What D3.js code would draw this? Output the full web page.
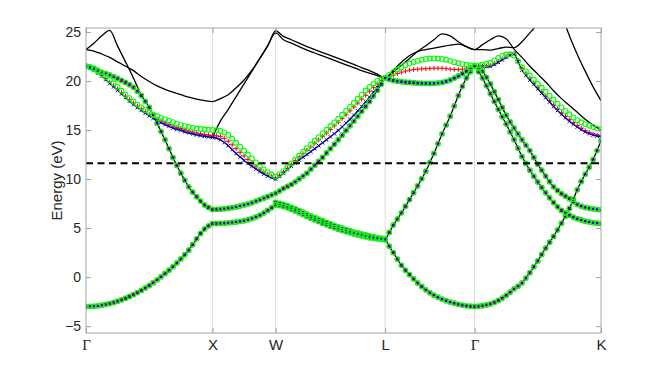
<!DOCTYPE html>
<html>
<head>
<meta charset="utf-8">
<script src="https://cdn.jsdelivr.net/npm/d3@7"></script>
<style>
  body { margin: 0; background: #fff; }
  .tick text { font-family: "Liberation Sans", Arial, sans-serif; fill: #262626; }
</style>
</head>
<body>
<script>
var svgWidth = 664;
var svgHeight = 374;

var margin = { top: 28, right: 63, bottom: 41, left: 86 };
var width = svgWidth - margin.left - margin.right;
var height = svgHeight - margin.top - margin.bottom;

// high-symmetry path
var kNodes = [0, 1, 1.5, 2.366, 3.073, 4.073];
var kDivs = [16, 8, 14, 11, 16];       // coarse grid (black-only bands)
var kDivsFine = [32, 16, 28, 22, 32];  // fine grid (projected bands)
var kLabels = ["Γ", "X", "W", "L", "Γ", "K"];
var yTicks = [-5, 0, 5, 10, 15, 20, 25];
var yRange = [-5.7, 25.4];
var fermiLevel = 11.6;

// projected bands (eV) on the fine grid: Γ-X | X-W | W-L | L-Γ | Γ-K
var band1 = [-3.00,-2.99,-2.97,-2.93,-2.87,-2.79,-2.70,-2.59,-2.46,-2.32,-2.16,-1.98,-1.79,-1.58,-1.35,-1.11,-0.85,-0.57,-0.28,0.03,0.36,0.70,1.06,1.44,1.84,2.28,2.75,3.30,3.90,4.45,4.90,5.22,5.45,
  5.46,5.48,5.50,5.53,5.57,5.62,5.68,5.75,5.85,5.98,6.13,6.30,6.53,6.80,7.07,7.35,
  7.29,7.20,7.06,6.90,6.73,6.55,6.37,6.18,6.00,5.83,5.66,5.50,5.34,5.18,5.03,4.88,4.75,4.62,4.51,4.40,4.30,4.20,4.11,4.02,3.96,3.90,3.85,3.80,
  3.15,2.50,1.83,1.20,0.70,0.25,-0.18,-0.60,-0.96,-1.30,-1.59,-1.85,-2.06,-2.25,-2.41,-2.55,-2.67,-2.78,-2.86,-2.93,-2.97,-3.00,
  -2.97,-2.92,-2.84,-2.74,-2.58,-2.38,-2.14,-1.86,-1.54,-1.20,-0.93,-0.60,-0.10,0.45,1.05,1.65,2.30,2.95,3.55,4.15,4.80,5.50,6.22,7.00,7.95,8.90,9.75,10.50,11.20,12.00,12.90,13.90];

var band2 = [21.50,21.42,21.30,21.10,20.90,20.75,20.60,20.43,20.25,20.05,19.85,19.62,19.35,18.95,18.50,17.92,17.30,16.50,15.70,14.85,14.00,13.10,12.20,11.38,10.60,9.88,9.20,8.67,8.20,7.75,7.35,7.10,6.90,
  6.91,6.93,6.97,7.02,7.08,7.15,7.25,7.35,7.46,7.58,7.73,7.88,8.04,8.20,8.37,8.55,
  8.78,9.05,9.24,9.45,9.71,10.00,10.30,10.60,11.00,11.40,11.80,12.20,12.65,13.10,13.55,14.00,14.47,14.95,15.42,15.90,16.40,16.90,17.40,17.90,18.47,19.05,19.67,20.30,
  20.17,20.05,19.98,19.92,19.88,19.85,19.81,19.78,19.76,19.75,19.74,19.75,19.79,19.85,19.96,20.10,20.29,20.50,20.74,21.00,21.25,21.50,
  21.28,21.00,20.37,19.70,18.90,18.10,17.30,16.50,15.83,15.20,14.60,14.00,13.45,12.90,12.20,11.50,10.90,10.30,9.73,9.20,8.83,8.50,8.25,8.00,7.68,7.40,7.23,7.10,7.02,6.95,6.90,6.85];

var bandPair = [null,null,null,null,null,null,null,null,null,null,null,null,null,null,null,null,null,null,null,null,null,null,null,null,null,null,null,null,null,null,null,null,null,
  null,null,null,null,null,null,null,null,null,null,null,null,null,null,null,7.60,
  7.51,7.40,7.27,7.12,6.96,6.80,6.61,6.42,6.24,6.07,5.90,5.74,5.58,5.42,5.27,5.12,4.99,4.86,4.73,4.60,4.50,4.40,4.30,4.20,4.11,4.03,3.96,3.90,
  4.55,5.30,5.92,6.55,7.22,7.90,8.60,9.30,10.03,10.80,11.68,12.60,13.60,14.60,15.50,16.40,17.45,18.50,19.45,20.30,20.95,21.50,
  20.95,20.30,19.50,18.70,17.90,17.10,16.35,15.60,14.80,14.00,13.15,12.30,11.58,10.90,10.28,9.70,9.13,8.60,8.08,7.60,7.17,6.80,6.53,6.30,6.11,5.95,5.82,5.70,5.62,5.55,5.50,5.45];

var band3 = [21.50,21.33,21.10,20.82,20.50,20.13,19.75,19.40,19.05,18.67,18.30,17.94,17.60,17.29,17.00,16.72,16.45,16.19,15.95,15.74,15.55,15.37,15.20,15.07,14.95,14.82,14.70,14.60,14.50,14.42,14.35,14.30,14.25,
  14.18,14.00,13.73,13.40,13.00,12.60,12.24,11.90,11.59,11.30,11.02,10.75,10.51,10.30,10.13,10.00,
  10.27,10.60,10.96,11.30,11.63,11.95,12.22,12.50,12.80,13.10,13.40,13.70,14.00,14.30,14.62,14.95,15.32,15.70,16.09,16.50,16.94,17.40,17.87,18.35,18.85,19.35,19.83,20.30,
  20.17,20.05,19.98,19.92,19.88,19.85,19.81,19.78,19.76,19.75,19.74,19.75,19.79,19.85,19.96,20.10,20.29,20.50,20.74,21.00,21.25,21.50,
  21.47,21.45,21.46,21.50,21.68,21.90,22.15,22.40,22.60,22.75,22.00,21.10,20.58,20.10,19.65,19.20,18.75,18.30,17.85,17.40,16.99,16.60,16.24,15.90,15.59,15.30,15.04,14.80,14.64,14.50,14.39,14.30];

var greenBand = [21.50,21.37,21.20,20.97,20.70,20.41,20.10,19.76,19.40,19.00,18.60,18.24,17.90,17.59,17.30,17.04,16.80,16.59,16.40,16.24,16.10,15.95,15.80,15.64,15.50,15.39,15.30,15.22,15.15,15.10,15.05,15.02,15.00,
  14.97,14.90,14.75,14.50,14.12,13.70,13.30,12.90,12.50,12.10,11.69,11.30,10.98,10.70,10.46,10.25,
  10.50,10.80,11.20,11.60,12.00,12.40,12.78,13.15,13.52,13.90,14.27,14.65,15.02,15.40,15.77,16.15,16.55,16.95,17.35,17.75,18.18,18.60,19.02,19.40,19.73,20.00,20.17,20.30,
  20.62,20.90,21.17,21.40,21.61,21.80,21.94,22.05,22.16,22.25,22.29,22.30,22.29,22.25,22.16,22.05,21.92,21.80,21.71,21.65,21.59,21.55,
  21.59,21.65,21.73,21.85,22.09,22.35,22.55,22.70,22.72,22.60,22.00,21.40,20.97,20.55,20.12,19.70,19.30,18.90,18.50,18.10,17.69,17.30,16.94,16.60,16.29,16.00,15.79,15.60,15.44,15.30,15.17,15.05];

var redBand = [21.50,21.35,21.15,20.89,20.60,20.26,19.90,19.55,19.20,18.82,18.45,18.09,17.75,17.44,17.15,16.87,16.60,16.37,16.15,15.94,15.75,15.57,15.40,15.27,15.15,15.02,14.90,14.80,14.70,14.62,14.55,14.50,14.45,
  14.42,14.35,14.14,13.85,13.49,13.10,12.72,12.35,11.99,11.65,11.31,11.00,10.74,10.50,10.29,10.10,
  10.38,10.70,11.10,11.50,11.88,12.25,12.60,12.95,13.30,13.65,14.00,14.35,14.70,15.05,15.42,15.80,16.17,16.55,16.95,17.35,17.75,18.15,18.55,18.95,19.34,19.70,20.02,20.30,
  20.45,20.60,20.76,20.90,21.01,21.10,21.16,21.20,21.23,21.25,21.28,21.30,21.30,21.30,21.26,21.20,21.17,21.15,21.20,21.30,21.40,21.50,
  21.50,21.50,21.54,21.60,21.78,22.00,22.25,22.50,22.68,22.80,22.10,21.30,20.79,20.30,19.82,19.35,18.90,18.45,18.00,17.55,17.14,16.75,16.39,16.05,15.74,15.45,15.19,14.95,14.76,14.60,14.49,14.40];

// black-only bands on the coarse grid
var topBand1 = [23.20,23.85,24.60,25.15,23.55,21.95,20.30,18.50,null,null,null,null,null,null,null,null,null,
  null,null,null,null,null,null,null,null,
  null,null,null,null,null,null,null,null,null,null,null,null,null,null,
  null,null,null,null,null,null,null,null,null,null,null,
  null,null,null,null,null,null,null,null,null,null,null,null,null,null,null,null];

var topBand2 = [23.20,23.05,22.75,22.40,21.95,21.50,21.05,20.45,19.95,19.50,19.15,18.85,18.60,18.35,18.15,18.00,17.90,
  18.20,18.60,19.30,20.10,21.10,22.30,23.60,25.10,
  24.55,24.20,23.85,23.50,23.20,22.90,22.60,22.30,22.00,21.70,21.35,21.05,20.70,20.30,
  20.90,21.60,22.30,23.00,23.60,24.20,24.80,24.60,24.00,23.50,23.20,
  23.70,24.20,24.60,24.30,23.25,22.40,21.50,20.70,19.90,19.00,18.20,17.50,16.80,16.10,15.50,15.00];

var topBand3 = [null,null,null,null,null,null,null,null,null,null,null,null,null,null,null,null,14.25,
  15.90,17.10,18.40,19.70,21.00,22.30,23.60,24.90,
  24.20,23.85,23.50,23.15,22.85,22.55,22.25,21.95,21.65,21.35,21.05,20.80,20.55,20.30,
  21.10,21.90,22.60,23.00,23.20,23.35,23.50,23.65,23.75,23.50,23.20,
  23.20,23.15,23.30,23.45,23.40,24.00,24.90,25.80,null,null,null,null,null,null,null,null];

var topBand4 = [null,null,null,null,null,null,null,null,null,null,null,null,null,null,null,null,null,
  null,null,null,null,null,null,null,null,
  null,null,null,null,null,null,null,null,null,null,null,null,null,null,
  null,null,null,null,null,null,null,null,null,null,null,
  null,null,null,null,null,null,null,null,null,null,26.90,24.60,22.70,21.00,19.40,18.00];

// k grids from the path nodes
function makeGrid(divs) {
  var g = [kNodes[0]];
  divs.forEach(function(n, s) {
    for (var j = 1; j <= n; j++) {
      g.push(kNodes[s] + (kNodes[s + 1] - kNodes[s]) * j / n);
    }
  });
  return g;
}
var kCoarse = makeGrid(kDivs);
var kFine = makeGrid(kDivsFine);

var svg = d3.select("body")
  .append("svg")
  .attr("width", svgWidth)
  .attr("height", svgHeight);

var chartGroup = svg.append("g")
  .attr("transform", `translate(${margin.left}, ${margin.top})`);

var x = d3.scaleLinear().domain([kNodes[0], kNodes[kNodes.length - 1]]).range([0, width]);
var y = d3.scaleLinear().domain(yRange).range([height, 0]);

chartGroup.append("clipPath")
  .attr("id", "plotClip")
  .append("rect")
  .attr("width", width)
  .attr("height", height);

// vertical grid lines at the symmetry points
chartGroup.selectAll(".kgrid")
  .data(kNodes.slice(1, -1))
  .enter()
  .append("line")
  .attr("class", "kgrid")
  .attr("x1", d => x(d))
  .attr("x2", d => x(d))
  .attr("y1", 0)
  .attr("y2", height)
  .attr("stroke", "#dedede")
  .attr("stroke-width", 1);

var plotArea = chartGroup.append("g").attr("clip-path", "url(#plotClip)");

// black band lines
var blackLines = [
  { values: band1, grid: kFine, from: 0 },
  { values: band2, grid: kFine, from: 14 },
  { values: bandPair, grid: kFine, from: 0 },
  { values: band3, grid: kFine, from: 0 },
  { values: topBand1, grid: kCoarse, from: 0 },
  { values: topBand2, grid: kCoarse, from: 0 },
  { values: topBand3, grid: kCoarse, from: 0 },
  { values: topBand4, grid: kCoarse, from: 0 }
];

var bandLine = d3.line()
  .curve(d3.curveMonotoneX)
  .defined(d => d.e !== null)
  .x(d => x(d.k))
  .y(d => y(d.e));

blackLines.forEach(function(b) {
  var pts = b.values.map(function(e, i) {
    return { k: b.grid[i], e: i < b.from ? null : e };
  });
  plotArea.append("path")
    .datum(pts)
    .attr("d", bandLine)
    .attr("fill", "none")
    .attr("stroke", "#000")
    .attr("stroke-width", 1.3);
});

// projected markers
var markerSets = {
  red: [band1, band2, bandPair, redBand],
  blue: [band1, band2, bandPair, band3],
  green: [band1, band2, bandPair, greenBand]
};

function points(values) {
  var pts = [];
  values.forEach(function(e, i) {
    if (e !== null) pts.push({ k: kFine[i], e: e });
  });
  return pts;
}

markerSets.red.forEach(function(vals) {
  plotArea.append("g").selectAll("path")
    .data(points(vals))
    .enter()
    .append("path")
    .attr("transform", d => `translate(${x(d.k)}, ${y(d.e)})`)
    .attr("d", "M-2.4,0H2.4M0,-2.4V2.4")
    .attr("stroke", "#ff0000")
    .attr("stroke-width", 1);
});

markerSets.blue.forEach(function(vals) {
  plotArea.append("g").selectAll("path")
    .data(points(vals))
    .enter()
    .append("path")
    .attr("transform", d => `translate(${x(d.k)}, ${y(d.e)})`)
    .attr("d", "M-1.8,-1.8L1.8,1.8M-1.8,1.8L1.8,-1.8")
    .attr("stroke", "#0000ff")
    .attr("stroke-width", 1);
});

markerSets.green.forEach(function(vals) {
  plotArea.append("g").selectAll("circle")
    .data(points(vals))
    .enter()
    .append("circle")
    .attr("cx", d => x(d.k))
    .attr("cy", d => y(d.e))
    .attr("r", 2.4)
    .attr("fill", "none")
    .attr("stroke", "#00ff00")
    .attr("stroke-width", 1.1);
});

// Fermi level
chartGroup.append("line")
  .attr("x1", 0)
  .attr("x2", width)
  .attr("y1", y(fermiLevel))
  .attr("y2", y(fermiLevel))
  .attr("stroke", "#000")
  .attr("stroke-width", 2)
  .attr("stroke-dasharray", "7,4.5");

// axes
var leftAxis = d3.axisLeft(y).tickValues(yTicks).tickSize(-5).tickPadding(5);
var rightAxis = d3.axisRight(y).tickValues(yTicks).tickSize(-5).tickFormat("");
var bottomAxis = d3.axisBottom(x).tickValues(kNodes).tickSize(-5).tickPadding(6)
  .tickFormat((d, i) => kLabels[i]);
var topAxis = d3.axisTop(x).tickValues(kNodes).tickSize(-5).tickFormat("");

var gl = chartGroup.append("g").call(leftAxis);
gl.selectAll("text").style("font-size", "14px");
chartGroup.append("g").attr("transform", `translate(${width}, 0)`).call(rightAxis);
var gb = chartGroup.append("g").attr("transform", `translate(0, ${height})`).call(bottomAxis);
gb.selectAll("text")
  .style("font-size", "15px")
  .style("font-family", d => (d === 0 || d === 3.073) ? "'Liberation Serif', 'DejaVu Serif', serif" : null);
chartGroup.append("g").call(topAxis);

chartGroup.selectAll(".domain").remove();
chartGroup.selectAll(".tick line").attr("stroke", "#a0a0a0");

// box
chartGroup.append("rect")
  .attr("width", width)
  .attr("height", height)
  .attr("fill", "none")
  .attr("stroke", "#a6a6a6")
  .attr("stroke-width", 1);

// axis label
chartGroup.append("text")
  .attr("transform", "rotate(-90)")
  .attr("x", 0 - (height / 2))
  .attr("y", 0 - 24)
  .attr("text-anchor", "middle")
  .style("font-family", "'Liberation Sans', Arial, sans-serif")
  .style("font-size", "15px")
  .style("fill", "#262626")
  .text("Energy (eV)");
</script>
</body>
</html>
